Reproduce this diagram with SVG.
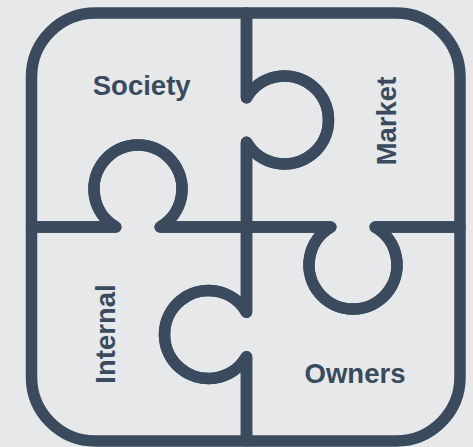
<svg xmlns="http://www.w3.org/2000/svg" width="473" height="447" viewBox="0 0 473 447">
  <style>
    .piece { fill: none; stroke: #394b5d; stroke-width: 11.5; stroke-linejoin: round; stroke-linecap: round; }
    .label { font-family: "Liberation Sans", Arial, sans-serif; font-weight: bold; font-size: 27.5px; fill: #394b5d; text-anchor: middle; }
  </style>
  <rect x="0" y="0" width="473" height="447" fill="#e7e8ea"/>
  <g id="society">
    <path class="piece" d="M31.5,77 A64,64 0 0 1 95.5,13 H246.5 V97.8 A44,44 0 1 1 246.5,142.2 V227 H160.2 A44,44 0 1 0 115.8,227 H31.5 Z"/>
    <text class="label" x="141.7" y="95">Society</text>
  </g>
  <g id="market">
    <path class="piece" d="M246.5,13 H396 A64,64 0 0 1 460,77 V227 H375.2 A44,44 0 1 1 330.8,227 H246.5 V142.2 A44,44 0 1 0 246.5,97.8 Z"/>
    <text class="label" transform="translate(396,121) rotate(-90)" x="0" y="0">Market</text>
  </g>
  <g id="owners">
    <path class="piece" d="M246.5,227 H330.8 A44,44 0 1 0 375.2,227 H460 V377 A64,64 0 0 1 396,441 H246.5 V356.7 A44,44 0 1 1 246.5,312.3 Z"/>
    <text class="label" x="355" y="383">Owners</text>
  </g>
  <g id="internal">
    <path class="piece" d="M31.5,227 H115.8 A44,44 0 1 1 160.2,227 H246.5 V312.3 A44,44 0 1 0 246.5,356.7 V441 H95.5 A64,64 0 0 1 31.5,377 Z"/>
    <text class="label" transform="translate(115,334) rotate(-90)" x="0" y="0">Internal</text>
  </g>
  <g id="connectors"></g>
</svg>
